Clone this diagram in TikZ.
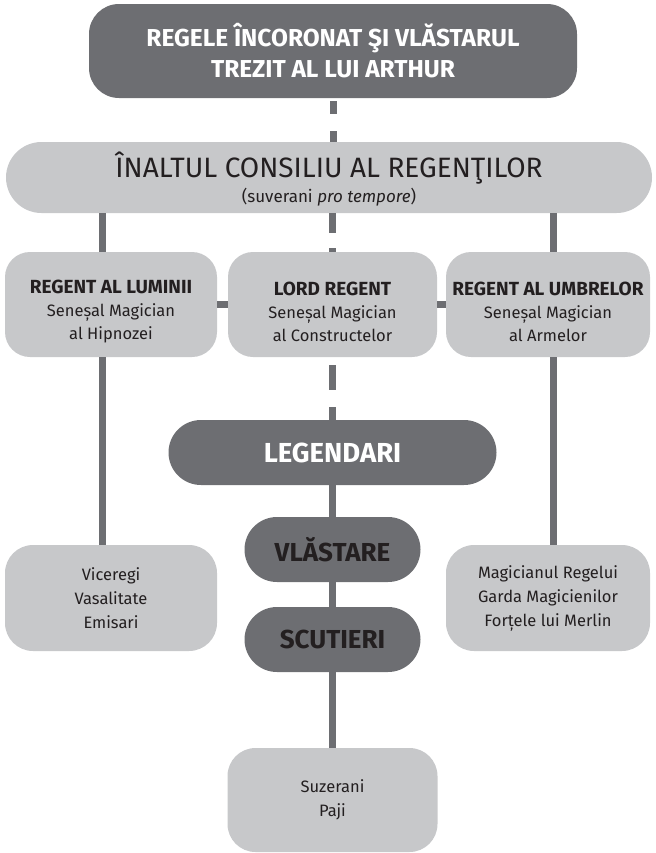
\documentclass[tikz,border=0pt]{standalone}
\usepackage{fontspec}
\setmainfont{Fira Sans}
\usetikzlibrary{positioning}
\definecolor{boxdark}{HTML}{6D6E72}
\definecolor{boxlight}{HTML}{C7C8CA}
\definecolor{ink}{HTML}{231F20}
\newcommand{\deep}{boxdark}
\newcommand{\pale}{boxlight}
\newcommand{\pushdown}[1]{\rule{0pt}{#1}}

\begin{document}
\begin{tikzpicture}[x=0.5pt, y=-0.5pt]
    \tikzset{
        box/.style={draw=none, outer sep=0pt, inner sep=0pt, align=center, text=ink},
        king/.style={box, fill=\deep, text=white, rounded corners=15pt, minimum width=244pt, minimum height=47pt, font=\fontsize{12.25}{15.5}\selectfont\bfseries},
        council/.style={box, fill=\pale, rounded corners=17.75pt, minimum width=323pt, minimum height=35.5pt, font=\fontsize{14}{12.5}\selectfont},
        regent/.style={box, fill=\pale, rounded corners=12.5pt, minimum height=52.5pt, font=\fontsize{8.25}{11.5}\selectfont},
        rank/.style={box, fill=\deep, rounded corners=16.25pt, minimum height=32.5pt, font=\fontsize{13}{15}\selectfont\bfseries},
        retinue/.style={box, fill=\pale, rounded corners=14pt, minimum height=53pt, font=\fontsize{8.25}{12}\selectfont},
        link/.style={draw=\deep, line width=3.5pt},
        dashlink/.style={link, dash pattern=#1}
    }
    \useasboundingbox (0,0) rectangle (655,853);
    % top of the order
    \node[king] (arthur) at (333,51) {REGELE ÎNCORONAT ŞI VLĂSTARUL\\TREZIT AL LUI ARTHUR};
    \node[council, below=22pt of arthur, xshift=-2pt] (council) {\pushdown{14pt}ÎNALTUL CONSILIU AL REGENŢILOR\\{\fontsize{8.5}{12.5}\selectfont(suverani \textit{pro tempore})}};
    % the three regents
    \node[regent, minimum width=104.5pt, below=19.5pt of council, xshift=1.75pt] (lord) {\pushdown{14pt}{\fontsize{9.5}{11.5}\selectfont\bfseries LORD REGENT}\\Seneșal Magician\\al Constructelor};
    \node[regent, minimum width=106pt, left=5.5pt of lord] (light) {\pushdown{14pt}{\fontsize{9.5}{11.5}\selectfont\bfseries REGENT AL LUMINII}\\Seneșal Magician\\al Hipnozei};
    \node[regent, minimum width=102pt, right=4.5pt of lord] (shadow) {\pushdown{14pt}{\fontsize{9.5}{11.5}\selectfont\bfseries REGENT AL UMBRELOR}\\Seneșal Magician\\al Armelor};
    % ranks
    \node[rank, text=white, minimum width=164pt, below=31.5pt of lord, font=\fontsize{13.75}{15}\selectfont\bfseries] (legend) {LEGENDARI};
    \node[rank, minimum width=88pt, below=16pt of legend] (scions) {VLĂSTARE};
    \node[rank, minimum width=88pt, below=12.5pt of scions] (squires) {SCUTIERI};
    \node[retinue, minimum width=105pt, minimum height=52pt, below=38pt of squires] (pages) {Suzerani\\Paji};
    \node[retinue, minimum width=106pt, below=94pt of light] (viceroys) {Viceregi\\Vasalitate\\Emisari};
    \node[retinue, minimum width=102pt, below=94pt of shadow] (guard) {Magicianul Regelui\\Garda Magicienilor\\Forțele lui Merlin};
    \coordinate (lx) at ([xshift=-4.5pt]light.north);
    \coordinate (rx) at ([xshift=2.5pt]shadow.north);
    % connectors
    \draw[dashlink={on 0pt off 1.5pt on 6.5pt off 8.5pt on 6pt}] (arthur.south) -- (arthur.south |- council.north);
    \draw[dashlink={on 10pt off 7.5pt on 3pt}] (lord.north |- council.south) -- (lord.north);
    \draw[dashlink={on 0pt off 4pt on 12.5pt off 8.5pt on 7pt}] (lord.south) -- (lord.south |- legend.north);
    \draw[link] (lx |- council.south) -- (lx);
    \draw[link] (rx |- council.south) -- (rx);
    \draw[link] (light.east) -- (lord.west);
    \draw[link] (lord.east) -- (shadow.west);
    \draw[link] (lx |- light.south) -- (lx |- viceroys.north);
    \draw[link] (rx |- shadow.south) -- (rx |- guard.north);
    \draw[link] (legend.south) -- (scions.north);
    \draw[link] (scions.south) -- (squires.north);
    \draw[link] (squires.south) -- (pages.north);
\end{tikzpicture}
\end{document}
